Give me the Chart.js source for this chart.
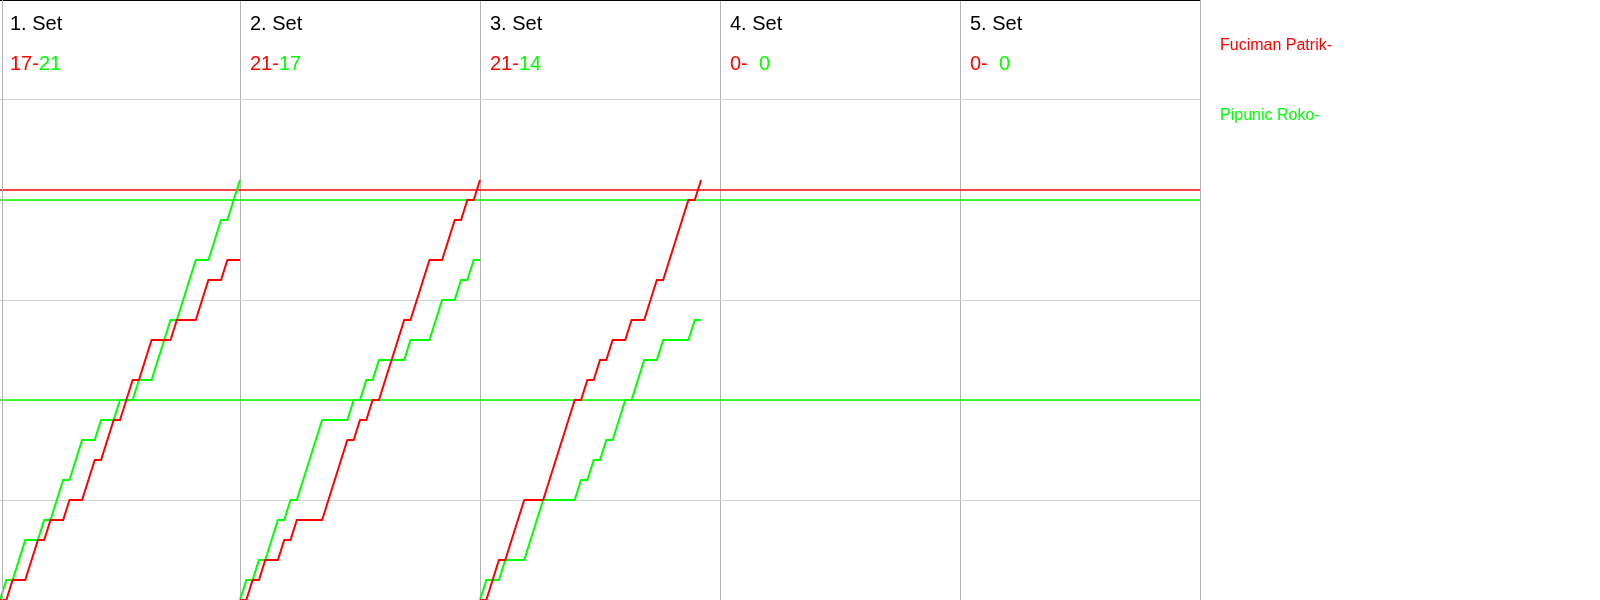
<!DOCTYPE html>
<html>
<head>
<meta charset="utf-8">
<script src="https://cdn.jsdelivr.net/npm/chart.js@4/dist/chart.umd.min.js"></script>
<style>
  body { margin: 0; background: #fff; }
  #wrap { width: 1600px; height: 600px; position: relative; }
</style>
</head>
<body>
<div id="wrap"><canvas id="grafico"></canvas></div>
<script>
// players and sets
const playerNames = ['Fuciman Patrik-', 'Pipunic Roko-'];
const playerColors = ['#ff0000', '#00ff00'];
const setLabels = ['1. Set', '2. Set', '3. Set', '4. Set', '5. Set'];

// running score after each rally (index 0 = start of the set)
const set1Red   = [0,0,1,1,1,2,3,3,4,4,4,5,5,5,6,7,7,8,9,9,10,11,11,12,13,13,13,13,14,14,14,14,15,16,16,16,17,17,17];
const set1Green = [0,1,1,2,3,3,3,4,4,5,6,6,7,8,8,8,9,9,9,10,10,10,11,11,11,12,13,14,14,15,16,17,17,17,18,19,19,20,21];
const set2Red   = [0,0,1,1,2,2,2,3,3,4,4,4,4,4,5,6,7,8,8,9,9,10,10,11,12,13,14,14,15,16,17,17,17,18,19,19,20,20,21];
const set2Green = [0,1,1,2,2,3,4,4,5,5,6,7,8,9,9,9,9,9,10,10,11,11,12,12,12,12,12,13,13,13,13,14,15,15,15,16,16,17,17];
const set3Red   = [0,0,1,2,2,3,4,5,5,5,5,6,7,8,9,10,10,11,11,12,12,13,13,13,14,14,14,15,16,16,17,18,19,20,20,21];
const set3Green = [0,1,1,1,2,2,2,2,3,4,5,5,5,5,5,5,6,6,7,7,8,8,9,10,10,11,12,12,12,13,13,13,13,13,14,14];
const set4Red = [];
const set4Green = [];
const set5Red = [];
const set5Green = [];

const redSets = [set1Red, set2Red, set3Red, set4Red, set5Red];
const greenSets = [set1Green, set2Green, set3Green, set4Green, set5Green];

// horizontal marker lines (points) and which player they belong to
const refValues = [20.5, 20, 10];
const refOwner = [0, 1, 1];

const yMax = 30;
const yStep = 5;

// each set gets a column as wide as the longest set
const setWidth = Math.max(...redSets.map(s => s.length)) - 1;
const xMax = setWidth * setLabels.length;

function toPoints(arr, setIdx) {
  return arr.map((v, i) => ({ x: setIdx * setWidth + i, y: v }));
}

const datasets = [];
for (let s = 0; s < setLabels.length; s++) {
  [redSets[s], greenSets[s]].forEach((arr, p) => {
    if (!arr.length) return;
    datasets.push({
      type: 'line',
      label: playerNames[p],
      data: toPoints(arr, s),
      borderColor: playerColors[p],
      borderWidth: 2,
      pointRadius: 0,
      tension: 0
    });
  });
}
refValues.forEach((v, i) => {
  datasets.push({
    type: 'line',
    label: 'ref',
    data: [{ x: 0, y: v }, { x: xMax, y: v }],
    borderColor: playerColors[refOwner[i]],
    borderWidth: 1.6,
    pointRadius: 0
  });
});

const textos = {
  id: 'textos',
  afterDraw(chart) {
    const { ctx, chartArea, scales } = chart;
    ctx.save();
    ctx.textBaseline = 'alphabetic';
    ctx.textAlign = 'left';
    setLabels.forEach((lab, s) => {
      const x0 = scales.x.getPixelForValue(s * setWidth) + 10;
      ctx.font = '20px "Liberation Sans", Arial, sans-serif';
      ctx.fillStyle = '#000';
      ctx.fillText(lab, x0, chartArea.top + 30);
      const r = redSets[s].length ? redSets[s][redSets[s].length - 1] : 0;
      const g = greenSets[s].length ? greenSets[s][greenSets[s].length - 1] : 0;
      const redTxt = r + '-';
      ctx.fillStyle = playerColors[0];
      ctx.fillText(redTxt, x0, chartArea.top + 70);
      let gx = x0 + ctx.measureText(redTxt).width;
      if (g < 10) gx += ctx.measureText('0').width;
      ctx.fillStyle = playerColors[1];
      ctx.fillText(String(g), gx, chartArea.top + 70);
    });
    // left border
    ctx.strokeStyle = '#b4b4b4';
    ctx.lineWidth = 1;
    ctx.beginPath();
    ctx.moveTo(chartArea.left + 2.5, chartArea.top);
    ctx.lineTo(chartArea.left + 2.5, chartArea.bottom);
    ctx.stroke();
    // legend
    ctx.font = '16px "Liberation Sans", Arial, sans-serif';
    playerNames.forEach((n, p) => {
      ctx.fillStyle = playerColors[p];
      ctx.fillText(n, chartArea.right + 20, chartArea.top + 50 + p * 70);
    });
    ctx.restore();
  }
};

const grafico = new Chart(document.getElementById('grafico'), {
  type: 'line',
  data: { datasets: datasets },
  options: {
    responsive: true,
    maintainAspectRatio: false,
    animation: false,
    layout: { padding: { left: 0, top: 0, right: 400, bottom: 0 } },
    plugins: { legend: { display: false }, tooltip: { enabled: false } },
    scales: {
      x: {
        type: 'linear',
        min: 0,
        max: xMax,
        ticks: { display: false, stepSize: setWidth },
        grid: {
          drawTicks: false,
          lineWidth: 1,
          color: ctx => ctx.tick && ctx.tick.value === 0 ? 'rgba(0,0,0,0)' : '#b4b4b4'
        },
        border: { display: false }
      },
      y: {
        type: 'linear',
        min: 0,
        max: yMax,
        ticks: { display: false, stepSize: yStep },
        grid: {
          drawTicks: false,
          lineWidth: 1,
          color: ctx => ctx.tick && ctx.tick.value === yMax ? '#000' : (ctx.tick && ctx.tick.value === 0 ? '#b4b4b4' : '#d2d2d2')
        },
        border: { display: false }
      }
    }
  },
  plugins: [textos]
});
</script>
</body>
</html>
